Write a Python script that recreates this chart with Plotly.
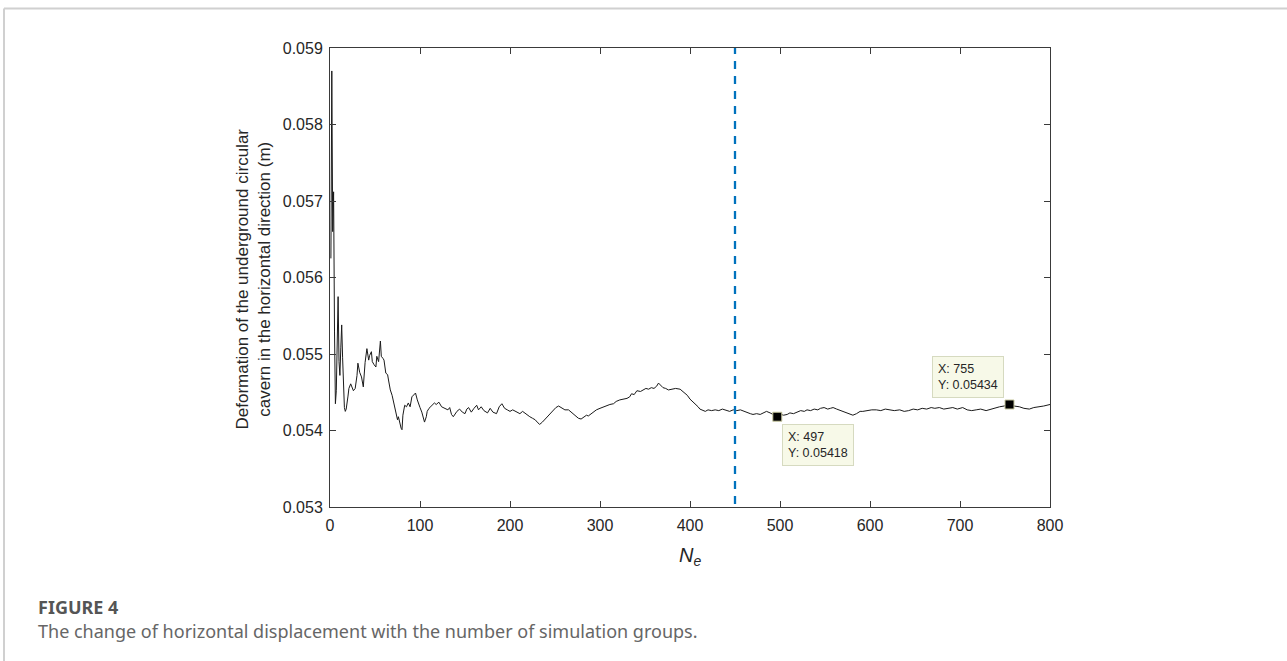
import plotly.graph_objects as go

# ---- data ----
ne = [1, 2, 3, 4, 5, 6, 7, 8, 9, 10,
      11, 12, 13, 14, 15, 16, 17, 18, 20, 21,
      23, 24, 26, 28, 30, 31, 33, 35, 37, 39,
      41, 43, 44, 46, 47, 49, 51, 52, 54, 56,
      57, 59, 60, 62, 64, 65, 67, 69, 70, 72,
      73, 75, 76, 78, 79, 80, 81, 83, 85, 87,
      89, 91, 93, 95, 97, 98, 100, 102, 104, 105,
      107, 108, 110, 113, 116, 118, 121, 124, 128, 131,
      133, 135, 137, 139, 141, 144, 147, 150, 152, 154,
      157, 160, 163, 165, 168, 171, 175, 178, 181, 185,
      188, 191, 194, 197, 200, 203, 207, 211, 214, 218,
      222, 225, 228, 231, 233, 236, 239, 243, 246, 248,
      251, 254, 257, 261, 265, 268, 271, 274, 276, 279,
      282, 285, 287, 290, 293, 296, 300, 304, 307, 311,
      315, 318, 322, 326, 330, 333, 335, 338, 341, 345,
      348, 351, 354, 357, 360, 363, 365, 368, 370, 373,
      376, 380, 384, 389, 392, 394, 397, 400, 403, 406,
      409, 411, 414, 417, 420, 424, 428, 432, 436, 440,
      444, 448, 452, 456, 460, 463, 467, 470, 474, 478,
      482, 485, 489, 493, 497, 501, 504, 508, 511, 515,
      519, 523, 527, 530, 534, 538, 542, 545, 549, 553,
      556, 559, 563, 567, 570, 574, 578, 581, 585, 589,
      592, 597, 602, 607, 612, 617, 622, 627, 633, 638,
      643, 648, 653, 658, 663, 668, 672, 677, 682, 687,
      692, 697, 703, 708, 713, 718, 723, 729, 734, 739,
      744, 749, 755, 760, 766, 771, 777, 782, 788, 793,
      800]
deform = [0.05625, 0.05870, 0.05660, 0.05712, 0.05530, 0.05435, 0.05452, 0.05512, 0.05575, 0.05490,
          0.05472, 0.05508, 0.05538, 0.05495, 0.05447, 0.05430, 0.05425, 0.05428, 0.05445, 0.05455,
          0.05461, 0.05458, 0.05452, 0.05455, 0.05472, 0.05488, 0.05476, 0.05470, 0.05457, 0.05489,
          0.05507, 0.05492, 0.05498, 0.05503, 0.05490, 0.05486, 0.05483, 0.05497, 0.05490, 0.05517,
          0.05497, 0.05494, 0.05492, 0.05475, 0.05473, 0.05466, 0.05453, 0.05446, 0.05440, 0.05428,
          0.05422, 0.05414, 0.05418, 0.05407, 0.05403, 0.05401, 0.05420, 0.05433, 0.05431, 0.05436,
          0.05431, 0.05444, 0.05447, 0.05449, 0.05440, 0.05436, 0.05430, 0.05424, 0.05413, 0.05411,
          0.05418, 0.05425, 0.05429, 0.05433, 0.05436, 0.05434, 0.05437, 0.05431, 0.05429, 0.05427,
          0.05430, 0.05421, 0.05418, 0.05422, 0.05425, 0.05428, 0.05424, 0.05422, 0.05428, 0.05430,
          0.05424, 0.05429, 0.05433, 0.05427, 0.05431, 0.05426, 0.05423, 0.05429, 0.05424, 0.05422,
          0.05431, 0.05435, 0.05429, 0.05427, 0.05425, 0.05427, 0.05424, 0.05422, 0.05425, 0.05421,
          0.05418, 0.05416, 0.05414, 0.05410, 0.05408, 0.05411, 0.05415, 0.05420, 0.05424, 0.05427,
          0.05430, 0.05432, 0.05430, 0.05427, 0.05427, 0.05424, 0.05420, 0.05417, 0.05416, 0.05415,
          0.05417, 0.05420, 0.05419, 0.05422, 0.05425, 0.05427, 0.05429, 0.05431, 0.05432, 0.05434,
          0.05435, 0.05438, 0.05440, 0.05441, 0.05442, 0.05444, 0.05448, 0.05447, 0.05452, 0.05451,
          0.05453, 0.05455, 0.05454, 0.05456, 0.05455, 0.05458, 0.05462, 0.05459, 0.05456, 0.05455,
          0.05453, 0.05454, 0.05455, 0.05454, 0.05451, 0.05448, 0.05446, 0.05441, 0.05438, 0.05434,
          0.05431, 0.05428, 0.05426, 0.05425, 0.05427, 0.05426, 0.05427, 0.05426, 0.05428, 0.05426,
          0.05425, 0.05427, 0.05426, 0.05427, 0.05425, 0.05423, 0.05422, 0.05421, 0.05422, 0.05421,
          0.05423, 0.05425, 0.05423, 0.05420, 0.05418, 0.05421, 0.05420, 0.05421, 0.05423, 0.05422,
          0.05424, 0.05426, 0.05425, 0.05427, 0.05426, 0.05428, 0.05427, 0.05429, 0.05430, 0.05428,
          0.05429, 0.05430, 0.05428, 0.05426, 0.05425, 0.05423, 0.05421, 0.05420, 0.05422, 0.05425,
          0.05425, 0.05426, 0.05427, 0.05427, 0.05426, 0.05428, 0.05427, 0.05426, 0.05427, 0.05425,
          0.05426, 0.05428, 0.05427, 0.05429, 0.05428, 0.05430, 0.05429, 0.05430, 0.05428, 0.05429,
          0.05430, 0.05428, 0.05430, 0.05427, 0.05426, 0.05427, 0.05428, 0.05426, 0.05428, 0.05429,
          0.05431, 0.05432, 0.05434, 0.05432, 0.05431, 0.05429, 0.05428, 0.05430, 0.05431, 0.05432,
          0.05434]

x_ticks = [0, 100, 200, 300, 400, 500, 600, 700, 800]
y_ticks = [0.053, 0.054, 0.055, 0.056, 0.057, 0.058, 0.059]
ref_line_x = 450
tip_x = [497, 755]
tip_y = [0.05418, 0.05434]

# ---- layout geometry ----
W, H = 1287, 661
L, R, T, B = 330, 237, 48, 154
PW, PH = W - L - R, H - T - B

def px(x):
    return (x - L) / PW

def py(y):
    return (H - B - y) / PH

AX = "#3a3a3a"
FONT = "Liberation Sans, Arial, sans-serif"

fig = go.Figure()
fig.add_trace(go.Scatter(x=ne, y=deform, mode="lines",
                         line=dict(color="#1a1a1a", width=1), showlegend=False))
fig.add_trace(go.Scatter(x=[ref_line_x, ref_line_x], y=[y_ticks[0] + 0.00004, y_ticks[-1]], mode="lines",
                         line=dict(color="#0072BD", width=2.3, dash="8px,7px"), showlegend=False))
fig.add_trace(go.Scatter(x=tip_x, y=tip_y, mode="markers",
                         marker=dict(symbol="square", size=9, color="black",
                                     line=dict(color="#c8c8a0", width=1)),
                         showlegend=False))

anns = []
anns.append(dict(x=tip_x[0], y=tip_y[0], xref="x", yref="y",
                 text=f"X: {tip_x[0]}<br>Y: {tip_y[0]}", showarrow=False,
                 xanchor="left", yanchor="top", xshift=5, yshift=-7, align="left",
                 bgcolor="#f7f9e8", bordercolor="#d6dac0", borderwidth=1, borderpad=5,
                 font=dict(family=FONT, size=12.5, color="#262626")))
anns.append(dict(x=tip_x[1], y=tip_y[1], xref="x", yref="y",
                 text=f"X: {tip_x[1]}<br>Y: {tip_y[1]}", showarrow=False,
                 xanchor="right", yanchor="bottom", xshift=-6, yshift=6, align="left",
                 bgcolor="#f7f9e8", bordercolor="#d6dac0", borderwidth=1, borderpad=5,
                 font=dict(family=FONT, size=12.5, color="#262626")))
anns.append(dict(x=px(252.5), y=py(279), xref="paper", yref="paper", textangle=-90,
                 text="Deformation of the underground circular<br>cavern in the horizontal direction (m)",
                 showarrow=False, xanchor="center", yanchor="middle",
                 font=dict(family=FONT, size=17, color="#262626")))
anns.append(dict(x=400, y=py(556), xref="x", yref="paper",
                 text="<i>N</i><sub><i>e</i></sub>", showarrow=False,
                 xanchor="center", yanchor="middle",
                 font=dict(family=FONT, size=20, color="#262626")))
anns.append(dict(x=px(36), y=py(607), xref="paper", yref="paper", text="<b>FIGURE 4</b>",
                 showarrow=False, xanchor="left", yanchor="middle",
                 font=dict(family="Noto Sans", size=18, color="#555555")))
anns.append(dict(x=px(36), y=py(631), xref="paper", yref="paper",
                 text="The change of horizontal displacement with the number of simulation groups.",
                 showarrow=False, xanchor="left", yanchor="middle",
                 font=dict(family="Noto Sans", size=18, color="#666666")))

shapes = [
    dict(type="line", xref="paper", yref="paper", x0=px(4), x1=px(W + 5), y0=py(8.5), y1=py(8.5),
         line=dict(color="#d0d0d0", width=2)),
    dict(type="line", xref="paper", yref="paper", x0=px(4), x1=px(4), y0=py(8.5), y1=py(H + 5),
         line=dict(color="#d0d0d0", width=2)),
]

fig.update_layout(
    width=W, height=H, margin=dict(l=L, r=R, t=T, b=B),
    paper_bgcolor="white", plot_bgcolor="white",
    annotations=anns, shapes=shapes,
    xaxis=dict(range=[0, 800], tickvals=x_ticks, ticktext=[str(v) for v in x_ticks],
               showgrid=False, zeroline=False, showline=True, mirror="ticks",
               linecolor=AX, linewidth=1, ticks="inside", ticklen=6, tickcolor=AX,
               ticklabelstandoff=4,
               tickfont=dict(family=FONT, size=16, color="#262626")),
    yaxis=dict(range=[0.053, 0.059], tickvals=y_ticks, ticktext=[f"{v:.3f}" for v in y_ticks],
               showgrid=False, zeroline=False, showline=True, mirror="ticks",
               linecolor=AX, linewidth=1, ticks="inside", ticklen=6, tickcolor=AX,
               ticklabelstandoff=3,
               tickfont=dict(family=FONT, size=16, color="#262626")),
)

fig.write_html("out.html", config={"displayModeBar": False},
               post_script="document.body.style.margin='0';")
